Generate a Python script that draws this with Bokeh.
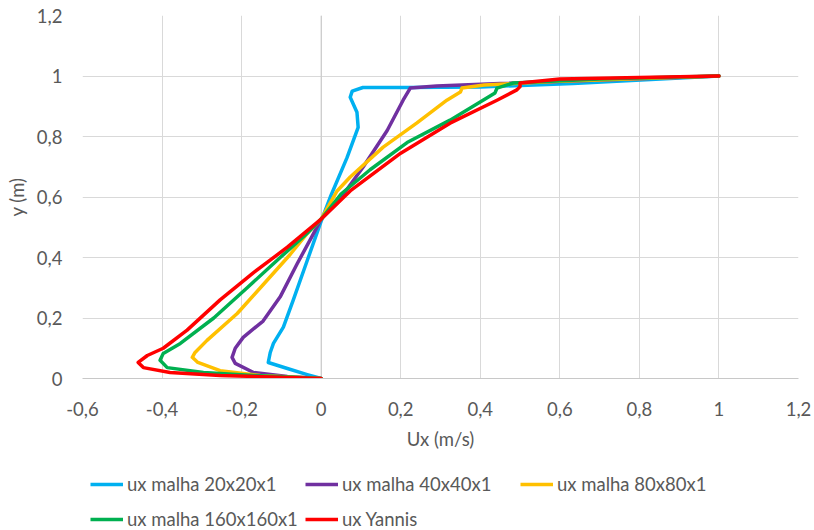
from bokeh.plotting import figure
from bokeh.layouts import column
from bokeh.models import FixedTicker, Legend, LegendItem, Span, Range1d
from bokeh.embed import file_html
from bokeh.resources import INLINE

# ---- data ----
x_ticks = [-0.6, -0.4, -0.2, 0, 0.2, 0.4, 0.6, 0.8, 1.0, 1.2]
x_tick_labels = ["-0,6", "-0,4", "-0,2", "0", "0,2", "0,4", "0,6", "0,8", "1", "1,2"]
y_ticks = [0, 0.2, 0.4, 0.6, 0.8, 1.0, 1.2]
y_tick_labels = ["0", "0,2", "0,4", "0,6", "0,8", "1", "1,2"]

series_names = ["ux malha 20x20x1", "ux malha 40x40x1", "ux malha 80x80x1",
                "ux malha 160x160x1", "ux Yannis"]

ux_20 = [0, -0.035, -0.085, -0.133, -0.128, -0.12, -0.095, -0.07, -0.035, 0, 0.023,
         0.065, 0.093, 0.09, 0.073, 0.078, 0.105, 0.216, 0.40, 0.633, 1.0]
y_20 = [0, 0.013, 0.033, 0.053, 0.086, 0.116, 0.17, 0.26, 0.39, 0.52, 0.60,
        0.73, 0.83, 0.88, 0.93, 0.95, 0.962, 0.962, 0.964, 0.975, 1.0]

ux_40 = [0, -0.085, -0.17, -0.216, -0.224, -0.216, -0.196, -0.146, -0.103, -0.06,
         -0.023, 0, 0.04, 0.106, 0.166, 0.206, 0.224, 0.29, 0.45, 1.0]
y_40 = [0, 0.007, 0.02, 0.05, 0.07, 0.10, 0.136, 0.19, 0.27, 0.38,
        0.47, 0.527, 0.58, 0.70, 0.82, 0.92, 0.96, 0.967, 0.975, 1.0]

ux_80 = [0, -0.153, -0.254, -0.31, -0.324, -0.317, -0.287, -0.211, -0.146, -0.078,
         -0.035, 0, 0.04, 0.073, 0.156, 0.24, 0.316, 0.35, 0.354, 0.41, 0.6, 1.0]
y_80 = [0, 0.01, 0.026, 0.053, 0.07, 0.086, 0.126, 0.215, 0.31, 0.41,
        0.48, 0.527, 0.62, 0.666, 0.765, 0.844, 0.92, 0.947, 0.96, 0.97, 0.983, 1.0]

ux_160 = [0, -0.17, -0.296, -0.387, -0.405, -0.397, -0.354, -0.27, -0.186, -0.103,
          -0.035, 0, 0.05, 0.123, 0.216, 0.324, 0.407, 0.437, 0.442, 0.483, 0.7, 1.0]
y_160 = [0, 0.01, 0.02, 0.036, 0.06, 0.083, 0.116, 0.2, 0.3, 0.4,
         0.48, 0.527, 0.61, 0.69, 0.78, 0.854, 0.92, 0.944, 0.96, 0.977, 0.99, 1.0]

ux_yannis = [0, -0.254, -0.38, -0.447, -0.46, -0.437, -0.397, -0.337, -0.254, -0.17,
             -0.085, 0, 0.073, 0.2, 0.324, 0.442, 0.492, 0.5, 0.5, 0.6, 1.0]
y_yannis = [0, 0.01, 0.02, 0.036, 0.053, 0.076, 0.1, 0.16, 0.26, 0.35,
            0.434, 0.527, 0.62, 0.745, 0.844, 0.92, 0.954, 0.965, 0.977, 0.99, 1.0]

colors = ["#00B0F0", "#7030A0", "#FFC000", "#00B050", "#FF0000"]

FONT = "Lato"
FS = "18.5px"
TXT = "#595959"
GRID = "#D9D9D9"

p = figure(width=814, height=460, output_backend="svg", toolbar_location=None,
           x_range=Range1d(-0.6, 1.2), y_range=Range1d(0, 1.2),
           min_border_left=82, min_border_right=16, min_border_top=15,
           min_border_bottom=82)
p.outline_line_color = None
p.background_fill_color = "white"
p.border_fill_color = "white"

p.xaxis.ticker = FixedTicker(ticks=x_ticks)
p.yaxis.ticker = FixedTicker(ticks=y_ticks)
p.xaxis.major_label_overrides = dict(zip(x_ticks, x_tick_labels))
p.yaxis.major_label_overrides = dict(zip(y_ticks, y_tick_labels))

for ax in (p.xaxis[0], p.yaxis[0]):
    ax.major_tick_line_color = None
    ax.minor_tick_line_color = None
    ax.major_label_text_font = FONT
    ax.major_label_text_font_size = FS
    ax.major_label_text_color = TXT
    ax.axis_label_text_font = FONT
    ax.axis_label_text_font_size = FS
    ax.axis_label_text_color = TXT
    ax.axis_label_text_font_style = "normal"

p.xaxis.axis_label = "Ux (m/s)"
p.yaxis.axis_label = "y (m)"
p.xaxis.axis_line_color = "#C8C8C8"
p.yaxis.axis_line_color = None
p.xaxis.major_label_standoff = 17
p.yaxis.major_label_standoff = 14
p.xaxis.axis_label_standoff = 9
p.yaxis.axis_label_standoff = 6

p.xgrid.grid_line_color = GRID
p.ygrid.grid_line_color = GRID

p.add_layout(Span(location=0, dimension="height", line_color="#C8C8C8",
                  line_width=1, level="underlay"))

xs = [ux_20, ux_40, ux_80, ux_160, ux_yannis]
ys = [y_20, y_40, y_80, y_160, y_yannis]
for x, y, c in zip(xs, ys, colors):
    p.line(x, y, line_color=c, line_width=3.5, line_join="round", line_cap="round")

# ---- legend strip below the chart (its frame aligns with the chart's frame) ----
lf = figure(width=814, height=70, output_backend="svg", toolbar_location=None,
            x_range=Range1d(0, 1), y_range=Range1d(0, 1),
            x_axis_location=None, y_axis_location=None, min_border=0)
lf.outline_line_color = None
lf.grid.visible = False
# proxy renderers (data kept outside the visible range) that carry each series' style
legend_renderers = [lf.line([5, 6], [5, 6], line_color=c, line_width=3.5) for c in colors]


def make_legend(idx, loc):
    return Legend(
        items=[LegendItem(label=series_names[i], renderers=[legend_renderers[i]]) for i in idx],
        orientation="horizontal", location=loc,
        label_text_font=FONT, label_text_font_size=FS, label_text_color=TXT,
        glyph_width=33, glyph_height=20, label_height=20, label_width=175,
        label_standoff=4, spacing=3, padding=0, margin=0,
        border_line_color=None, background_fill_alpha=0)


lf.add_layout(make_legend([0, 1, 2], (8, 35)))
lf.add_layout(make_legend([3, 4], (8, 0)))

layout = column(p, lf, spacing=0)
open("out.html", "w").write(file_html(layout, INLINE))
